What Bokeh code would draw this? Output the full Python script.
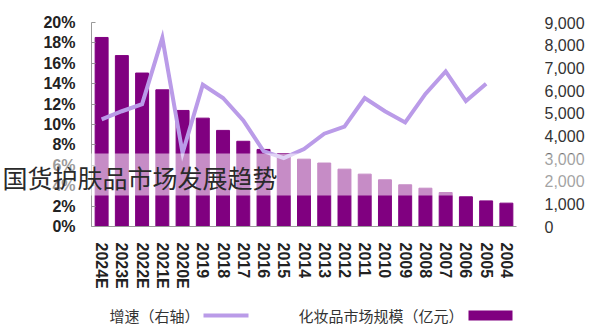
from bokeh.plotting import figure
from bokeh.layouts import column
from bokeh.models import (Range1d, LinearAxis, SingleIntervalTicker, PrintfTickFormatter,
                          NumeralTickFormatter, ColumnDataSource)
from bokeh.core.properties import value
from bokeh.embed import file_html
from bokeh.resources import INLINE

# ---- data ----
years = ["2024E", "2023E", "2022E", "2021E", "2020E", "2019", "2018", "2017", "2016", "2015",
         "2014", "2013", "2012", "2011", "2010", "2009", "2008", "2007", "2006", "2005", "2004"]
market_size = [8340, 7540, 6770, 6030, 5120, 4780, 4240, 3760, 3400, 3220,
               2970, 2800, 2530, 2310, 2060, 1840, 1690, 1500, 1310, 1130, 1030]
growth_years = years[:-1]
growth_pct = [10.5, 11.3, 12.0, 18.5, 7.2, 13.9, 12.6, 10.4, 7.4, 6.7,
              7.6, 9.1, 9.8, 12.6, 11.3, 10.2, 13.0, 15.2, 12.3, 14.0]
title_text = "国货护肤品市场发展趋势"
legend_bar = "化妆品市场规模（亿元）"
legend_line = "增速（右轴）"

BAR = "#800080"
LINE = "#BA9BE8"
W, H = 600, 335
ML, MR, MT, MB = 91, 84, 22, 109

# ---------------- main chart ----------------
p = figure(width=W, height=H, x_range=years, y_range=Range1d(0, 20),
           output_backend="svg", toolbar_location=None, frame_align=False,
           min_border_left=ML, min_border_right=MR, min_border_top=MT, min_border_bottom=MB)
p.extra_y_ranges = {"size": Range1d(0, 9000)}
p.outline_line_color = None
p.xgrid.grid_line_color = None
p.ygrid.grid_line_color = None

src = ColumnDataSource(dict(x=years, v=market_size))
p.vbar(x="x", top="v", width=0.64, source=src, color=BAR, y_range_name="size")
p.line(growth_years, growth_pct, line_color=LINE, line_width=4, line_join="miter")

la = p.yaxis[0]
la.ticker = SingleIntervalTicker(interval=2)
la.formatter = PrintfTickFormatter(format="%d%%")
la.axis_line_color = "#999999"
la.major_tick_line_color = "#999999"
la.major_tick_in = 4
la.major_tick_out = 0
la.minor_tick_line_color = None
la.major_label_standoff = 12
la.major_label_text_font = "Liberation Sans"
la.major_label_text_font_size = "16px"
la.major_label_text_font_style = "bold"
la.major_label_text_color = "#222222"

ra = LinearAxis(y_range_name="size", ticker=SingleIntervalTicker(interval=1000),
                formatter=NumeralTickFormatter(format="0,0"))
ra.axis_line_color = None
ra.major_tick_line_color = None
ra.minor_tick_line_color = None
ra.major_label_standoff = 22
ra.major_label_text_font = "Liberation Sans"
ra.major_label_text_font_size = "16px"
ra.major_label_text_color = "#333333"
p.add_layout(ra, "right")

xa = p.xaxis[0]
xa.axis_line_color = "#999999"
xa.major_tick_line_color = None
xa.minor_tick_line_color = None
xa.major_label_orientation = "vertical"
xa.major_label_standoff = 10
xa.major_label_text_font = "Liberation Sans"
xa.major_label_text_font_size = "16px"
xa.major_label_text_font_style = "bold"
xa.major_label_text_color = "#222222"

# ---------------- overlay (title band, title, legend) ----------------
o = figure(width=W, height=H, x_range=Range1d(0, W), y_range=Range1d(H, 0),
           output_backend="svg", toolbar_location=None, x_axis_type=None, y_axis_type=None,
           min_border=0, frame_align=False, margin=(-H, 0, 0, 0))
o.outline_line_color = None
o.grid.visible = False
o.background_fill_alpha = 0
o.border_fill_alpha = 0

o.quad(left=[0], right=[W], top=[153], bottom=[195], fill_color="white", fill_alpha=0.55,
       line_color=None)
o.text(x=[2], y=[176], text=[title_text], text_font=value("Noto Sans CJK SC"),
       text_font_size=value("25px"), text_color="#2a2a2a", text_baseline="middle",
       text_align="left")

o.quad(left=[468], right=[512], top=[310], bottom=[320], fill_color=BAR, line_color=None)
o.text(x=[463], y=[315], text=[legend_bar], text_font=value("Noto Sans CJK SC"),
       text_font_size=value("15px"), text_color="#333333", text_baseline="middle",
       text_align="right")
o.segment(x0=[203], y0=[315], x1=[248], y1=[315], line_color=LINE, line_width=4)
o.text(x=[199], y=[315], text=[legend_line], text_font=value("Noto Sans CJK SC"),
       text_font_size=value("15px"), text_color="#333333", text_baseline="middle",
       text_align="right")

layout = column(p, o)
open("out.html", "w").write(file_html(layout, INLINE))
